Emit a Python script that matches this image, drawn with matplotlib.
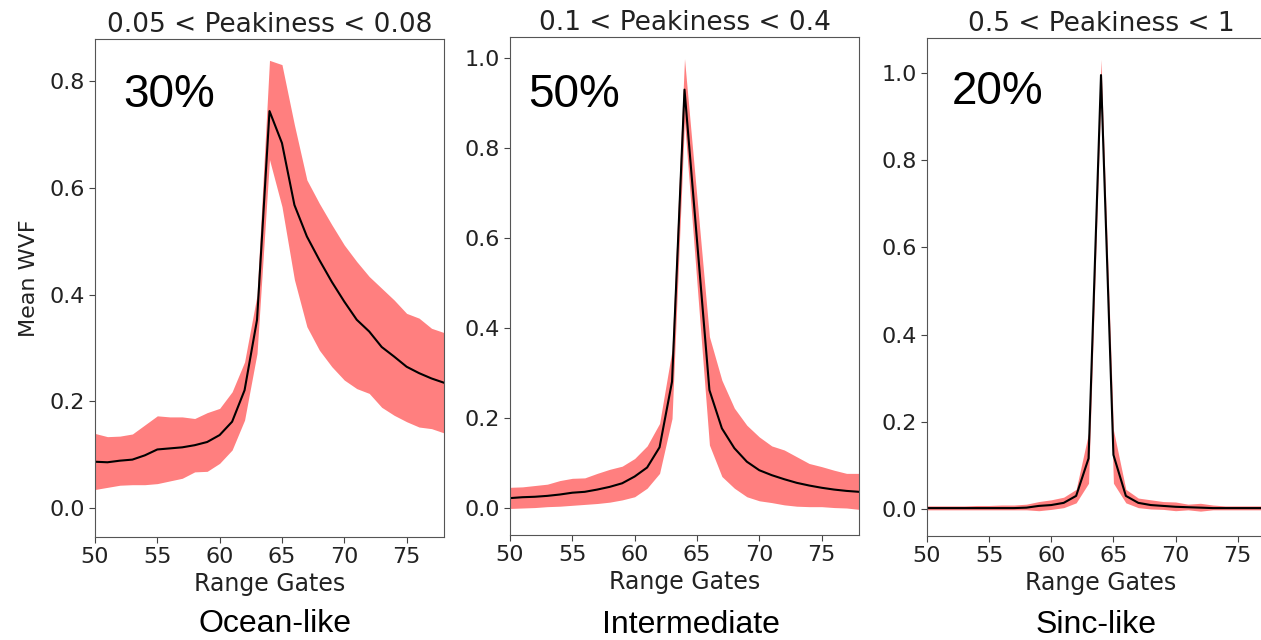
import numpy as np
import matplotlib
matplotlib.use("Agg")
import matplotlib.pyplot as plt

# Range gates shown on the x axis
gates = np.arange(50, 79)

# Ocean-like: 0.05 < Peakiness < 0.08
ocean_mean = [0.087, 0.086, 0.089, 0.091, 0.099, 0.110, 0.112, 0.114, 0.118, 0.124,
              0.137, 0.162, 0.221, 0.353, 0.744, 0.684, 0.568, 0.509, 0.465, 0.424,
              0.387, 0.353, 0.331, 0.302, 0.284, 0.265, 0.253, 0.243, 0.235]
ocean_up = [0.140, 0.134, 0.135, 0.139, 0.156, 0.173, 0.171, 0.171, 0.168, 0.179,
            0.187, 0.218, 0.274, 0.399, 0.839, 0.831, 0.718, 0.615, 0.571, 0.531,
            0.493, 0.462, 0.434, 0.412, 0.390, 0.365, 0.356, 0.337, 0.329]
ocean_low = [0.035, 0.039, 0.043, 0.044, 0.044, 0.046, 0.051, 0.056, 0.068, 0.069,
             0.084, 0.109, 0.165, 0.290, 0.653, 0.565, 0.428, 0.340, 0.296, 0.265,
             0.240, 0.224, 0.215, 0.189, 0.174, 0.162, 0.152, 0.149, 0.141]

# Intermediate: 0.1 < Peakiness < 0.4
inter_mean = [0.022, 0.024, 0.025, 0.027, 0.030, 0.034, 0.036, 0.041, 0.047, 0.055,
              0.070, 0.090, 0.135, 0.281, 0.930, 0.596, 0.262, 0.177, 0.133, 0.103,
              0.084, 0.073, 0.064, 0.056, 0.050, 0.045, 0.041, 0.038, 0.036]
inter_up = [0.046, 0.047, 0.050, 0.053, 0.061, 0.066, 0.067, 0.077, 0.086, 0.093,
            0.110, 0.138, 0.188, 0.351, 0.999, 0.690, 0.381, 0.284, 0.222, 0.184,
            0.158, 0.138, 0.129, 0.114, 0.099, 0.092, 0.084, 0.077, 0.077]
inter_low = [-0.001, 0.000, 0.001, 0.003, 0.004, 0.006, 0.008, 0.010, 0.013, 0.018,
             0.025, 0.044, 0.077, 0.199, 0.860, 0.500, 0.140, 0.070, 0.044, 0.025,
             0.016, 0.012, 0.007, 0.004, 0.003, 0.003, 0.001, 0.000, -0.003]

# Sinc-like: 0.5 < Peakiness < 1
sinc_mean = [0.002, 0.002, 0.002, 0.002, 0.002, 0.002, 0.002, 0.002, 0.003, 0.007,
             0.009, 0.014, 0.030, 0.116, 0.995, 0.124, 0.030, 0.014, 0.009, 0.007,
             0.005, 0.004, 0.003, 0.002, 0.002, 0.002, 0.002, 0.002, 0.002]
sinc_up = [0.007, 0.007, 0.007, 0.007, 0.008, 0.008, 0.009, 0.009, 0.011, 0.017,
           0.021, 0.027, 0.045, 0.174, 1.031, 0.181, 0.045, 0.025, 0.021, 0.017,
           0.016, 0.011, 0.013, 0.009, 0.007, 0.007, 0.007, 0.007, 0.007]
sinc_low = [-0.002, -0.002, -0.002, -0.002, -0.002, -0.002, -0.002, -0.002, -0.002, -0.004,
            -0.001, 0.003, 0.014, 0.059, 0.960, 0.059, 0.014, 0.003, 0.000, -0.001,
            -0.004, -0.002, -0.005, -0.002, -0.002, -0.002, -0.002, -0.002, -0.002]

titles = ['0.05 < Peakiness < 0.08', '0.1 < Peakiness < 0.4', '0.5 < Peakiness < 1']
shares = ['30%', '50%', '20%']
classes = ['Ocean-like', 'Intermediate', 'Sinc-like']

W, H = 1261, 640
fig = plt.figure(figsize=(W / 100, H / 100), dpi=100)

# pixel boxes (left, top, right, bottom) of each panel
boxes = [(95, 39, 444, 537), (510, 37, 859, 535), (927, 38, 1275, 536)]
ylims = [(-0.054, 0.879), (-0.060, 1.047), (-0.062, 1.080)]
yticks = [[0.0, 0.2, 0.4, 0.6, 0.8], [0.0, 0.2, 0.4, 0.6, 0.8, 1.0], [0.0, 0.2, 0.4, 0.6, 0.8, 1.0]]
pct_pos = [(123, 107), (528, 107), (952, 104)]
cls_pos = [(275, 632), (691, 633), (1096, 633)]

data = [(ocean_mean, ocean_up, ocean_low),
        (inter_mean, inter_up, inter_low),
        (sinc_mean, sinc_up, sinc_low)]

for i, (m, up, low) in enumerate(data):
    l, t, r, b = boxes[i]
    ax = fig.add_axes([l / W, 1 - b / H, (r - l) / W, (b - t) / H])
    ax.fill_between(gates, low, up, color='red', alpha=0.5, linewidth=0)
    ax.plot(gates, m, color='black', linewidth=1.5)
    ax.set_xlim(50, 78)
    ax.set_ylim(*ylims[i])
    ax.set_xticks([50, 55, 60, 65, 70, 75])
    ax.set_yticks(yticks[i])
    ax.tick_params(labelsize=16, length=4, color='#444444', labelcolor='#222222')
    for s in ax.spines.values():
        s.set_color('#555555')
    ax.set_title(titles[i], fontsize=19, color='#222222', pad=5)
    ax.set_xlabel('Range Gates', fontsize=17, color='#222222', labelpad=3)
    if i == 0:
        ax.set_ylabel('Mean WVF', fontsize=16, color='#222222')
        ax.yaxis.set_label_coords(-0.16, 0.52)
    fig.text(pct_pos[i][0] / W, 1 - pct_pos[i][1] / H, shares[i], fontsize=33,
             family='Liberation Sans', va='baseline', ha='left')
    fig.text(cls_pos[i][0] / W, 1 - cls_pos[i][1] / H, classes[i], fontsize=23,
             family='Liberation Sans', va='baseline', ha='center')

fig.savefig('out.png', dpi=100)
